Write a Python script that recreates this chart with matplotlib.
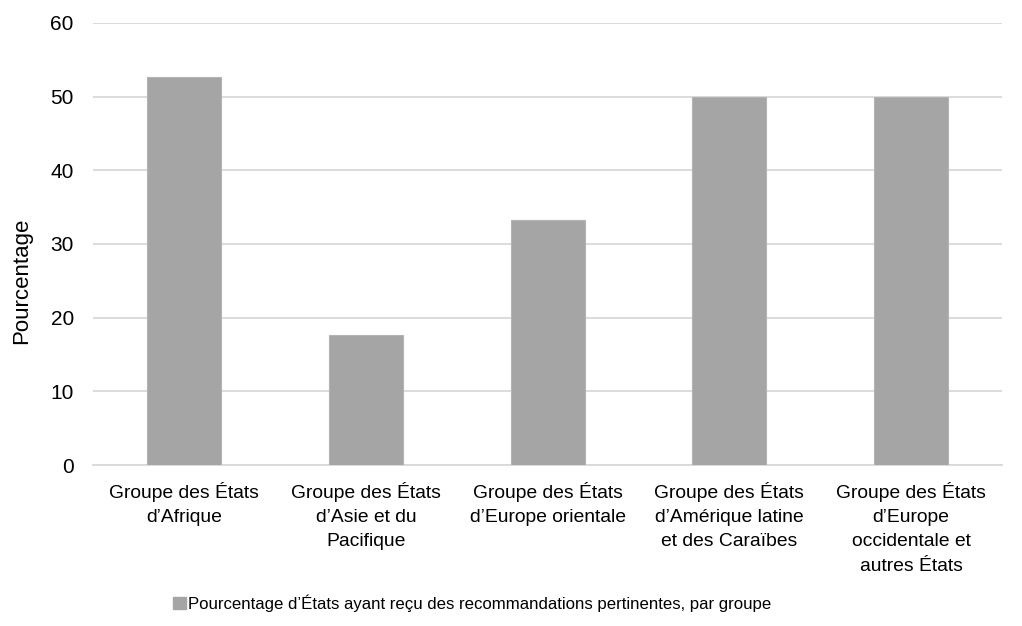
import matplotlib
matplotlib.use("Agg")
import matplotlib.pyplot as plt
from matplotlib.patches import Patch

plt.rcParams["font.family"] = ["Liberation Sans", "DejaVu Sans"]

# données
groupes = [
    "Groupe des États\nd\u2019Afrique",
    "Groupe des États\nd\u2019Asie et du\nPacifique",
    "Groupe des États\nd\u2019Europe orientale",
    "Groupe des États\nd\u2019Amérique latine\net des Caraïbes",
    "Groupe des États\nd\u2019Europe\noccidentale et\nautres États",
]
pourcentages = [52.6, 17.6, 33.3, 50.0, 50.0]
serie = "Pourcentage d\u2019États ayant reçu des recommandations pertinentes, par groupe"

GRIS = "#A5A5A5"
GRILLE = "#D9D9D9"
TEXTE = "#000000"

fig = plt.figure(figsize=(10.22, 6.26), dpi=100)
ax = fig.add_axes([0.0913, 0.257, 0.889, 0.7066])

x = range(len(groupes))
ax.bar(x, pourcentages, width=0.408, color=GRIS, edgecolor="#B4B4B4", linewidth=0.8, zorder=3)

ax.set_ylim(0, 60)
ax.set_xlim(-0.5, len(groupes) - 0.5)
ax.set_yticks(range(0, 61, 10))
ax.yaxis.grid(True, color=GRILLE, linewidth=1.3, zorder=0)
for s in ("top", "right", "left"):
    ax.spines[s].set_visible(False)
ax.spines["bottom"].set_color(GRILLE)
ax.spines["bottom"].set_linewidth(1.3)
ax.tick_params(axis="both", length=0, colors=TEXTE)
ax.tick_params(axis="y", pad=14, labelsize=15)
ax.tick_params(axis="x", pad=12, labelsize=13.9)
ax.set_xticks(list(x))
ax.set_xticklabels(groupes, linespacing=1.56)
ax.set_ylabel("Pourcentage", fontsize=16)
ax.yaxis.set_label_coords(-0.067, 0.416)

fig.legend(handles=[Patch(facecolor=GRIS, edgecolor=GRIS)], labels=[serie],
           loc="center", bbox_to_anchor=(0.462, 0.037), frameon=False,
           fontsize=12.1, handlelength=0.75, handleheight=0.75, handletextpad=0.15)

fig.savefig("out.png", dpi=100)
